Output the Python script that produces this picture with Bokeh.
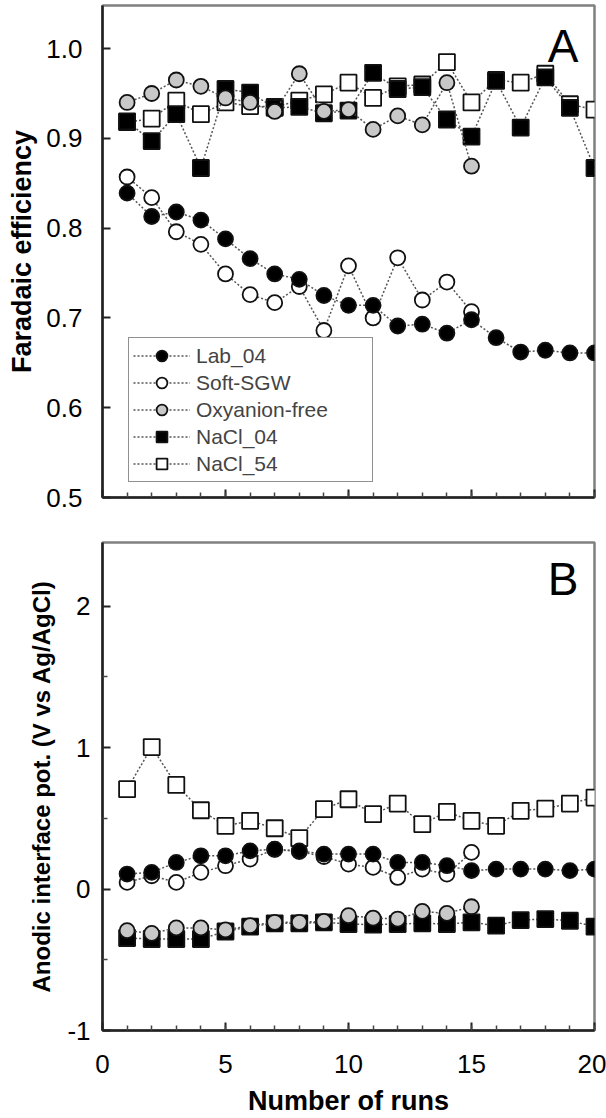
from bokeh.plotting import figure
from bokeh.layouts import column
from bokeh.models import Range1d, FixedTicker, Legend, LegendItem, Label
from bokeh.embed import file_html
from bokeh.resources import INLINE

# ---------------- data ----------------
runs20 = list(range(1, 21))
runs15 = list(range(1, 16))

series_names = ["Lab_04", "Soft-SGW", "Oxyanion-free", "NaCl_04", "NaCl_54"]

fe_lab = [0.839, 0.813, 0.818, 0.809, 0.788, 0.766, 0.749, 0.743, 0.725, 0.714,
          0.714, 0.691, 0.693, 0.683, 0.698, 0.678, 0.662, 0.664, 0.661, 0.661]
fe_soft = [0.857, 0.834, 0.796, 0.782, 0.749, 0.726, 0.717, 0.735, 0.686, 0.758,
           0.700, 0.767, 0.720, 0.740, 0.707]
fe_oxy = [0.940, 0.950, 0.965, 0.958, 0.945, 0.940, 0.930, 0.972, 0.930, 0.932,
          0.910, 0.925, 0.915, 0.962, 0.869]
fe_nacl04 = [0.919, 0.897, 0.927, 0.867, 0.955, 0.951, 0.934, 0.935, 0.928, 0.931,
             0.973, 0.955, 0.957, 0.921, 0.902, 0.964, 0.912, 0.968, 0.934, 0.867]
fe_nacl54 = [0.918, 0.922, 0.942, 0.927, 0.940, 0.936, 0.935, 0.942, 0.949, 0.962,
             0.945, 0.958, 0.960, 0.985, 0.940, 0.965, 0.962, 0.972, 0.938, 0.932]

pot_lab = [0.106, 0.118, 0.188, 0.235, 0.235, 0.270, 0.282, 0.270, 0.247, 0.247,
           0.247, 0.188, 0.188, 0.165, 0.130, 0.141, 0.141, 0.141, 0.130, 0.141]
pot_soft = [0.047, 0.094, 0.047, 0.118, 0.165, 0.212, 0.280, 0.265, 0.230, 0.176,
            0.153, 0.082, 0.141, 0.106, 0.259]
pot_oxy = [-0.294, -0.313, -0.275, -0.275, -0.289, -0.259, -0.235, -0.235, -0.228, -0.188,
           -0.205, -0.212, -0.158, -0.172, -0.125]
pot_nacl04 = [-0.346, -0.353, -0.353, -0.353, -0.300, -0.266, -0.242, -0.242, -0.235, -0.247,
              -0.252, -0.247, -0.242, -0.247, -0.235, -0.259, -0.219, -0.212, -0.224, -0.266]
pot_nacl54 = [0.706, 1.004, 0.736, 0.557, 0.447, 0.482, 0.430, 0.360, 0.565, 0.635,
              0.529, 0.604, 0.459, 0.546, 0.482, 0.447, 0.553, 0.569, 0.604, 0.647]

x_ticks = [0, 5, 10, 15, 20]
fe_ticks = [0.5, 0.6, 0.7, 0.8, 0.9, 1.0]
pot_ticks = [-1, 0, 1, 2]
pot_minor = [-0.5, 0.5, 1.5]

FONT = "Liberation Sans"

styles = {
    "Lab_04": dict(marker="circle", fill="black", size=15),
    "Soft-SGW": dict(marker="circle", fill="white", size=15),
    "Oxyanion-free": dict(marker="circle", fill="#c8c8c8", size=15),
    "NaCl_04": dict(marker="square", fill="black", size=16),
    "NaCl_54": dict(marker="square", fill="white", size=16),
}


def style_axes(p, ylabel, xlabel=None, show_x_labels=False):
    for ax in (p.xaxis[0], p.yaxis[0]):
        ax.axis_line_width = 2.5
        ax.axis_line_color = "#222222"
        ax.major_tick_in = 8
        ax.major_tick_out = 0
        ax.minor_tick_in = 5
        ax.minor_tick_out = 0
        ax.major_tick_line_width = 2
        ax.minor_tick_line_width = 1.5
        ax.major_tick_line_color = "#222222"
        ax.minor_tick_line_color = "#444444"
        ax.major_label_text_font = FONT
        ax.major_label_text_font_size = "26px"
        ax.major_label_text_color = "black"
        ax.axis_label_text_font = FONT
        ax.axis_label_text_font_style = "bold"
        ax.axis_label_text_color = "black"
    p.yaxis[0].axis_label = ylabel
    p.xaxis[0].ticker = FixedTicker(ticks=x_ticks, minor_ticks=list(range(0, 21)))
    if show_x_labels:
        p.xaxis[0].axis_label = xlabel
        p.xaxis[0].axis_label_text_font_size = "27px"
        p.xaxis[0].major_label_standoff = 24
        p.xaxis[0].axis_label_standoff = 10
    else:
        p.xaxis[0].major_label_text_font_size = "0px"
        p.xaxis[0].major_label_text_color = None
    p.xgrid.grid_line_color = None
    p.ygrid.grid_line_color = None
    p.outline_line_color = "#808080"
    p.outline_line_width = 2.5


def add_series(p, x, y, name):
    st = styles[name]
    r_line = p.line(x, y, line_color="#555555", line_width=1.5, line_dash="2 2")
    r_mark = p.scatter(x, y, marker=st["marker"], size=st["size"], fill_color=st["fill"],
                       line_color="#111111", line_width=1.8)
    return [r_line, r_mark]


# ---------------- panel A ----------------
pA = figure(frame_width=492, frame_height=492, x_range=Range1d(0, 20), y_range=Range1d(0.5, 1.048),
            output_backend="svg", toolbar_location=None,
            min_border_left=102, min_border_right=12, min_border_top=5, min_border_bottom=20)
style_axes(pA, "Faradaic efficiency")
pA.yaxis[0].ticker = FixedTicker(ticks=fe_ticks, minor_ticks=[])
pA.yaxis[0].major_label_standoff = 20
pA.yaxis[0].axis_label_text_font_size = "27px"
pA.yaxis[0].axis_label_standoff = 6
pA.yaxis[0].major_label_overrides = {0.5: "0.5", 0.6: "0.6", 0.7: "0.7", 0.8: "0.8", 0.9: "0.9", 1.0: "1.0"}

rA = {}
rA["NaCl_54"] = add_series(pA, runs20, fe_nacl54, "NaCl_54")
rA["NaCl_04"] = add_series(pA, runs20, fe_nacl04, "NaCl_04")
rA["Oxyanion-free"] = add_series(pA, runs15, fe_oxy, "Oxyanion-free")
rA["Soft-SGW"] = add_series(pA, runs15, fe_soft, "Soft-SGW")
rA["Lab_04"] = add_series(pA, runs20, fe_lab, "Lab_04")

legend = Legend(items=[LegendItem(label=n, renderers=rA[n]) for n in series_names],
                location=(26, 15), label_text_font=FONT, label_text_font_size="21px",
                label_height=27, glyph_height=27, glyph_width=57, label_standoff=6,
                label_width=172, spacing=0, padding=4, margin=0,
                border_line_color="#222222", border_line_width=1.5,
                background_fill_color="white", background_fill_alpha=1.0)
pA.add_layout(legend, "center")

pA.add_layout(Label(x=19.35, y=1.003, text="A", text_font=FONT, text_font_size="46px",
                    text_align="right", text_baseline="alphabetic", text_color="black"))

# ---------------- panel B ----------------
pB = figure(frame_width=492, frame_height=488, x_range=Range1d(0, 20), y_range=Range1d(-1, 2.45),
            output_backend="svg", toolbar_location=None,
            min_border_left=102, min_border_right=12, min_border_top=25, min_border_bottom=88)
style_axes(pB, "Anodic interface pot. (V vs Ag/AgCl)", "Number of runs", show_x_labels=True)
pB.yaxis[0].ticker = FixedTicker(ticks=pot_ticks, minor_ticks=pot_minor)
pB.yaxis[0].major_label_standoff = 12
pB.yaxis[0].axis_label_text_font_size = "24px"
pB.yaxis[0].axis_label_standoff = 9
pB.yaxis[0].major_label_overrides = {-1: "-1", 0: "0", 1: "1", 2: "2"}

add_series(pB, runs20, pot_nacl54, "NaCl_54")
add_series(pB, runs20, pot_nacl04, "NaCl_04")
add_series(pB, runs15, pot_oxy, "Oxyanion-free")
add_series(pB, runs15, pot_soft, "Soft-SGW")
add_series(pB, runs20, pot_lab, "Lab_04")

pB.add_layout(Label(x=19.35, y=2.19, text="B", text_font=FONT, text_font_size="46px",
                    text_align="right", text_baseline="alphabetic", text_color="black"))

layout = column(pA, pB, spacing=0)
open("out.html", "w").write(file_html(layout, INLINE))
